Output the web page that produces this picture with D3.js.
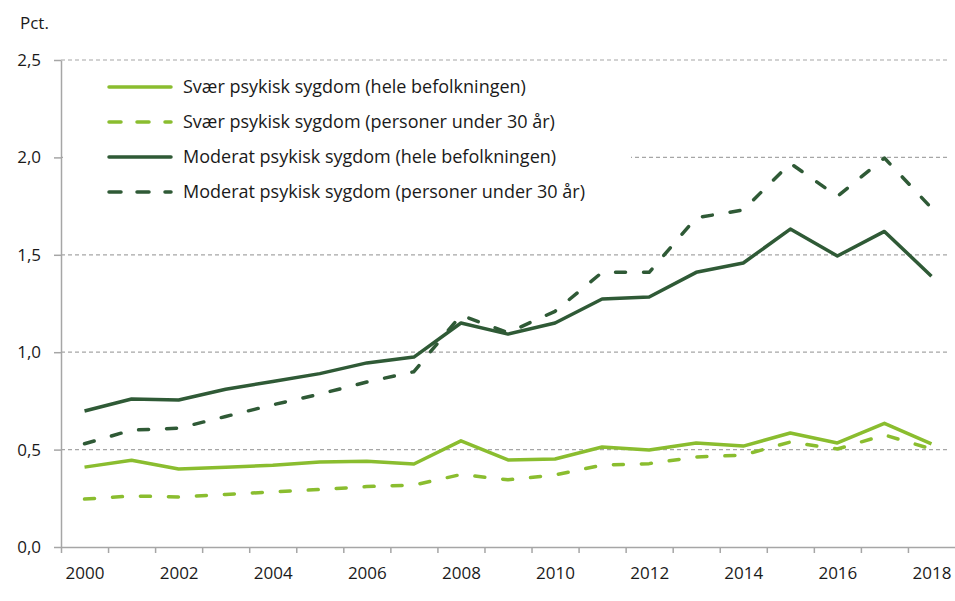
<!DOCTYPE html>
<html>
<head>
<meta charset="utf-8">
<script src="https://cdn.jsdelivr.net/npm/d3@7"></script>
<style>
  body { margin: 0; background: #fff; }
  svg text { font-family: "Open Sans", "Noto Sans", sans-serif; fill: #1a1a1a; }
</style>
</head>
<body>
<div id="chart"></div>
<script>
// Data
const years = d3.range(2000, 2019);
const svaerHele = [0.41, 0.445, 0.40, 0.41, 0.42, 0.436, 0.44, 0.426, 0.545, 0.447, 0.452, 0.513, 0.498, 0.534, 0.518, 0.585, 0.534, 0.635, 0.529];
const svaerUnder30 = [0.246, 0.262, 0.257, 0.27, 0.283, 0.295, 0.31, 0.318, 0.372, 0.345, 0.37, 0.42, 0.428, 0.462, 0.472, 0.539, 0.503, 0.575, 0.503];
const moderatHele = [0.698, 0.76, 0.755, 0.81, 0.85, 0.89, 0.945, 0.975, 1.15, 1.093, 1.15, 1.273, 1.283, 1.41, 1.458, 1.632, 1.494, 1.62, 1.39];
const moderatUnder30 = [0.53, 0.60, 0.61, 0.67, 0.73, 0.785, 0.847, 0.90, 1.19, 1.10, 1.21, 1.41, 1.41, 1.69, 1.73, 1.97, 1.80, 1.997, 1.74];
const yTicks = [0, 0.5, 1.0, 1.5, 2.0, 2.5];
const xLabels = [2000, 2002, 2004, 2006, 2008, 2010, 2012, 2014, 2016, 2018];

const lightGreen = "#8abd2f";
const darkGreen = "#2f5a36";
const series = [
  { name: "Svær psykisk sygdom (hele befolkningen)", values: svaerHele, color: lightGreen, dashed: false },
  { name: "Svær psykisk sygdom (personer under 30 år)", values: svaerUnder30, color: lightGreen, dashed: true },
  { name: "Moderat psykisk sygdom (hele befolkningen)", values: moderatHele, color: darkGreen, dashed: false },
  { name: "Moderat psykisk sygdom (personer under 30 år)", values: moderatUnder30, color: darkGreen, dashed: true }
];

const width = 955, height = 601;
const margin = { top: 60, right: 0, bottom: 54, left: 61 };

const svg = d3.select("#chart").append("svg")
  .attr("width", width)
  .attr("height", height);

const x = d3.scaleLinear()
  .domain([years[0] - 0.5, years[years.length - 1] + 0.5])
  .range([margin.left, width - margin.right]);
const y = d3.scaleLinear()
  .domain([0, 2.5])
  .range([height - margin.bottom, margin.top]);

const fmt = d3.formatLocale({ decimal: ",", thousands: ".", grouping: [3], currency: ["", ""] }).format(".1f");

// Gridlines
svg.append("g")
  .selectAll("line")
  .data(yTicks.filter(d => d > 0))
  .join("line")
  .attr("x1", margin.left)
  .attr("x2", width - 5)
  .attr("y1", d => y(d))
  .attr("y2", d => y(d))
  .attr("stroke", "#a6a6a6")
  .attr("stroke-width", 1.2)
  .attr("stroke-dasharray", "4 3");

// Legend background hides part of the gridlines
svg.append("rect")
  .attr("x", margin.left + 2)
  .attr("y", 68)
  .attr("width", 568)
  .attr("height", 140)
  .attr("fill", "#fff");

// Y axis
const yAxis = svg.append("g")
  .attr("transform", `translate(${margin.left},0)`)
  .call(d3.axisLeft(y).tickValues(yTicks).tickFormat(fmt).tickSize(7).tickSizeOuter(0));
yAxis.select(".domain").attr("stroke", "#a6a6a6").attr("stroke-width", 1.5);
yAxis.selectAll(".tick line").attr("stroke", "#a6a6a6").attr("stroke-width", 1.5);
yAxis.selectAll(".tick text")
  .attr("x", -20)
  .style("font-size", "17px")
  .attr("fill", "#1a1a1a");

// X axis: tick marks at category boundaries, labels at category centres
const xAxis = svg.append("g")
  .attr("transform", `translate(0,${y(0)})`)
  .call(d3.axisBottom(x).tickValues(years.map(d => d - 0.5)).tickFormat("").tickSize(6).tickSizeOuter(0));
xAxis.select(".domain").attr("stroke", "#a6a6a6").attr("stroke-width", 1.5);
xAxis.selectAll(".tick line").attr("stroke", "#a6a6a6").attr("stroke-width", 1.5);

const xLab = svg.append("g")
  .attr("transform", `translate(0,${y(0)})`)
  .call(d3.axisBottom(x).tickValues(xLabels).tickFormat(d3.format("d")).tickSize(0).tickPadding(20));
xLab.select(".domain").remove();
xLab.selectAll(".tick text")
  .style("font-size", "17px")
  .attr("fill", "#1a1a1a");

svg.append("text")
  .attr("x", 20)
  .attr("y", 29)
  .style("font-size", "17px")
  .text("Pct.");

// Lines
const line = d3.line()
  .x((d, i) => x(years[i]))
  .y(d => y(d));

series.forEach(s => {
  svg.append("path")
    .datum(s.values)
    .attr("fill", "none")
    .attr("stroke", s.color)
    .attr("stroke-width", 3.5)
    .attr("stroke-linejoin", "round")
    .attr("stroke-linecap", s.dashed ? "round" : "butt")
    .attr("stroke-dasharray", s.dashed ? "10 18" : null)
    .attr("d", line);
});

// Legend
const legend = svg.append("g").attr("transform", "translate(108,87)");
series.forEach((s, i) => {
  const g = legend.append("g").attr("transform", `translate(0,${i * 35})`);
  g.append("line")
    .attr("x1", 1)
    .attr("x2", 63)
    .attr("stroke", s.color)
    .attr("stroke-width", 3.5)
    .attr("stroke-linecap", "round")
    .attr("stroke-dasharray", s.dashed ? "12 16" : null);
  g.append("text")
    .attr("x", 75)
    .attr("dy", "0.35em")
    .style("font-size", "18px")
    .text(s.name);
});
</script>
</body>
</html>
